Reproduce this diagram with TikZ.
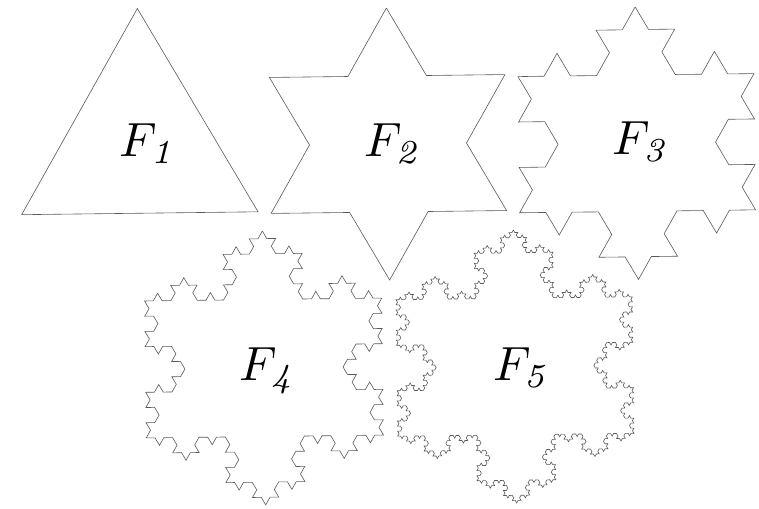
\documentclass[tikz,border=0pt]{standalone}
\usetikzlibrary{decorations.fractals}
\begin{document}
\begin{tikzpicture}[x=1pt,y=-1pt,
  kochline/.style={draw=black!65, line width=0.6pt, line join=miter, decoration=Koch snowflake},
  lbl/.style={scale=4.8, inner sep=0pt, anchor=base west}]
\useasboundingbox (0,0) rectangle (759,508);
\def\rot{0.7}
% F1
\coordinate (a1) at ({139+136.5*sin(-\rot)},{145-136.5*cos(-\rot)});
\coordinate (b1) at ({139+136.5*sin(120-\rot)},{145-136.5*cos(120-\rot)});
\coordinate (c1) at ({139+136.5*sin(240-\rot)},{145-136.5*cos(240-\rot)});
% F2
\coordinate (a2) at ({388+136*sin(-\rot)},{144-136*cos(-\rot)});
\coordinate (b2) at ({388+136*sin(120-\rot)},{144-136*cos(120-\rot)});
\coordinate (c2) at ({388+136*sin(240-\rot)},{144-136*cos(240-\rot)});
% F3
\coordinate (a3) at ({636.8+136.3*sin(-\rot)},{143.2-136.3*cos(-\rot)});
\coordinate (b3) at ({636.8+136.3*sin(120-\rot)},{143.2-136.3*cos(120-\rot)});
\coordinate (c3) at ({636.8+136.3*sin(240-\rot)},{143.2-136.3*cos(240-\rot)});
% F4
\coordinate (a4) at ({264+137*sin(-\rot)},{368-137*cos(-\rot)});
\coordinate (b4) at ({264+137*sin(120-\rot)},{368-137*cos(120-\rot)});
\coordinate (c4) at ({264+137*sin(240-\rot)},{368-137*cos(240-\rot)});
% F5
\coordinate (a5) at ({515+136.5*sin(-\rot)},{366.5-136.5*cos(-\rot)});
\coordinate (b5) at ({515+136.5*sin(120-\rot)},{366.5-136.5*cos(120-\rot)});
\coordinate (c5) at ({515+136.5*sin(240-\rot)},{366.5-136.5*cos(240-\rot)});

\draw[kochline] (a1) -- (b1) -- (c1) -- cycle;
\draw[kochline] decorate{ (a2) -- (b2) -- (c2) -- (a2) };
\draw[kochline] decorate{ decorate{ (a3) -- (b3) -- (c3) -- (a3) }};
\draw[kochline] decorate{ decorate{ decorate{ (a4) -- (b4) -- (c4) -- (a4) }}};
\draw[kochline] decorate{ decorate{ decorate{ decorate{ (a5) -- (b5) -- (c5) -- (a5) }}}};

\node[lbl] (l1) at (119,156) {$F_{\mathit{1}}$};
\node[lbl] (l2) at (364,156) {$F_{\mathit{2}}$};
\node[lbl] (l3) at (611.7,154.3) {$F_{\mathit{3}}$};
\node[lbl] (l4) at (239,380.7) {$F_{\mathit{4}}$};
\node[lbl] (l5) at (492.3,380.7) {$F_{\mathit{5}}$};
\end{tikzpicture}
\end{document}
